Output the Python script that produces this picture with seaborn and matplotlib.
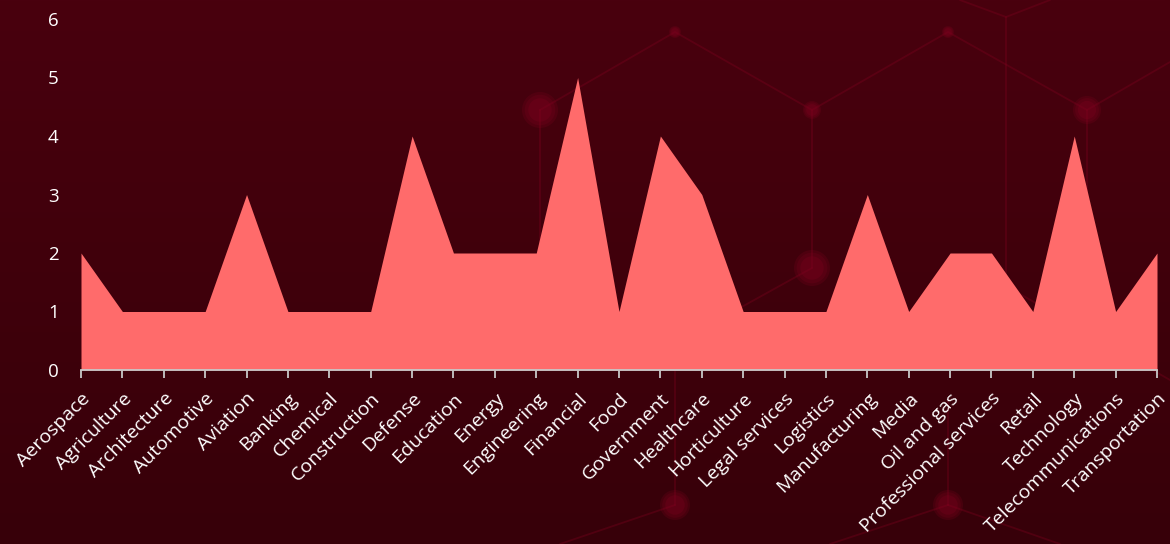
import numpy as np
import pandas as pd
import matplotlib
matplotlib.use("Agg")
import matplotlib.pyplot as plt
from matplotlib.lines import Line2D
from matplotlib.patches import Ellipse
import seaborn as sns

categories = ["Aerospace", "Agriculture", "Architecture", "Automotive", "Aviation", "Banking",
              "Chemical", "Construction", "Defense", "Education", "Energy", "Engineering",
              "Financial", "Food", "Government", "Healthcare", "Horticulture", "Legal services",
              "Logistics", "Manufacturing", "Media", "Oil and gas", "Professional services",
              "Retail", "Technology", "Telecommunications", "Transportation"]
counts = [2, 1, 1, 1, 3, 1, 1, 1, 4, 2, 2, 2, 5, 1, 4, 3, 1, 1, 1, 3, 1, 2, 2, 1, 4, 1, 2]
y_ticks = [0, 1, 2, 3, 4, 5, 6]

df = pd.DataFrame({"category": categories, "count": counts, "pos": np.arange(len(categories))})

sns.set_theme(style="white")
plt.rcParams["font.family"] = ["Open Sans", "DejaVu Sans"]

W, H = 1170, 544
fig = plt.figure(figsize=(W / 100, H / 100), dpi=100)

# background gradient
bg = fig.add_axes([0, 0, 1, 1], zorder=-10)
grad = np.linspace(0, 1, 256).reshape(-1, 1)
top = np.array([73, 0, 14]) / 255
bot = np.array([55, 0, 9]) / 255
img = top[None, None, :] * (1 - grad[:, :, None]) + bot[None, None, :] * grad[:, :, None]
bg.imshow(img, aspect="auto", extent=[0, 1, 0, 1], origin="upper", zorder=0)
bg.set_xlim(0, 1)
bg.set_ylim(0, 1)
bg.set_axis_off()

# decorative network (background art, figure pixel coords)
def px(x, y):
    return x / W, 1 - y / H

lc = (0.50, 0.0, 0.12)
segs = [
    [(540, 110), (675, 32), (812, 110), (948, 32), (1087, 110), (1170, 62)],
    [(540, 110), (540, 300)],
    [(812, 110), (812, 268)],
    [(1087, 110), (1087, 300)],
    [(960, 0), (1006, 17), (1050, 0)],
    [(1006, 17), (1006, 286), (1170, 380)],
    [(812, 268), (700, 330)],
    [(675, 370), (675, 505)],
    [(948, 400), (948, 505)],
    [(675, 505), (560, 544)],
    [(948, 505), (830, 544)],
    [(948, 505), (1060, 544)],
]
for s in segs:
    xs, ys = zip(*[px(x, y) for x, y in s])
    bg.add_line(Line2D(xs, ys, color=lc, lw=1.3, alpha=0.35, zorder=1))
nodes = [(540, 110, 18), (675, 32, 6), (812, 110, 9), (948, 32, 6), (1087, 110, 14),
         (812, 268, 18), (675, 505, 15), (948, 505, 15)]
for x, y, r in nodes:
    cx, cy = px(x, y)
    for k, a in [(1.0, 0.22), (0.85, 0.22), (0.65, 0.28)]:
        bg.add_patch(Ellipse((cx, cy), 2 * r * k / W, 2 * r * k / H, color=(0.50, 0.0, 0.12),
                             alpha=a, lw=0, zorder=2))

ax = fig.add_axes([81 / W, 1 - 370 / H, (1157 - 81) / W, (370 - 19) / H])
ax.patch.set_alpha(0)
fill_color = "#FF6B6B"
sns.lineplot(data=df, x="pos", y="count", ax=ax, color=fill_color, linewidth=0)
ax.fill_between(df["pos"], 0, df["count"], color=fill_color, linewidth=0, zorder=3)

ax.set_xlim(0, len(categories) - 1)
ax.set_ylim(0, 6)
ax.set_yticks(y_ticks)
ax.set_yticklabels([str(t) for t in y_ticks], color="white", fontsize=13.5)
ax.set_xticks(df["pos"])
ax.set_xticklabels(categories, rotation=45, ha="right", rotation_mode="anchor",
                   color="white", fontsize=14)
ax.tick_params(axis="x", length=6, width=1.3, color="#C8C8C8", direction="out", pad=8, bottom=True)
ax.tick_params(axis="y", length=0, pad=16)
ax.set_xlabel("")
ax.set_ylabel("")
for s in ["top", "right", "left"]:
    ax.spines[s].set_visible(False)
ax.spines["bottom"].set_color("#C8C8C8")
ax.spines["bottom"].set_linewidth(1.3)
ax.spines["bottom"].set_zorder(4)

fig.savefig("out.png", dpi=100)
